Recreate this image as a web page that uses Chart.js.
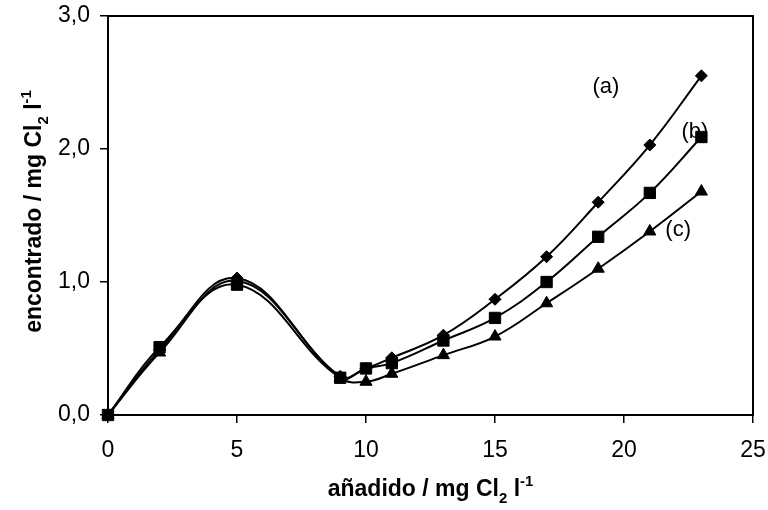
<!DOCTYPE html>
<html>
<head>
<meta charset="utf-8">
<script src="https://cdn.jsdelivr.net/npm/chart.js@4"></script>
<style>
  body { margin: 0; background: #fff; }
  canvas { display: block; }
</style>
</head>
<body>
<canvas id="myChart" width="768" height="510"></canvas>
<script>
// values
const added = [0, 2, 5, 9, 10, 11, 13, 15, 17, 19, 21, 23];
const seriesA = [0, 0.49, 1.03, 0.29, 0.35, 0.43, 0.60, 0.87, 1.19, 1.60, 2.03, 2.55];
const seriesB = [0, 0.51, 0.98, 0.28, 0.35, 0.39, 0.56, 0.73, 1.00, 1.34, 1.67, 2.09];
const seriesC = [0, 0.47, 1.01, 0.28, 0.25, 0.31, 0.45, 0.59, 0.84, 1.10, 1.38, 1.68];
const xTicks = [0, 5, 10, 15, 20, 25];
const yTicks = [0, 1, 2, 3];
const curveLabels = [
    { text: '(a)', x: 19.3, y: 2.47 },
    { text: '(b)', x: 22.75, y: 2.13 },
    { text: '(c)', x: 22.1, y: 1.39 }
];

const FONT = "'Liberation Sans', Arial, sans-serif";

function toPoints(ys) {
    return added.map((x, i) => ({ x: x, y: ys[i] }));
}

function makeSet(label, ys, style, radius) {
    return {
        label: label,
        data: toPoints(ys),
        borderColor: '#000',
        backgroundColor: '#000',
        borderWidth: 2,
        pointStyle: style,
        pointRadius: radius,
        pointHoverRadius: radius,
        pointBorderWidth: 1,
        tension: 0.4,
        fill: false,
        clip: false
    };
}

// draws text with a subscript / superscript run
function drawRich(ctx, parts, x, y, size) {
    let total = 0;
    parts.forEach(p => {
        ctx.font = 'bold ' + (p.s ? size * 0.65 : size) + 'px ' + FONT;
        total += ctx.measureText(p.t).width;
    });
    let cx = x - total / 2;
    parts.forEach(p => {
        const fs = p.s ? size * 0.65 : size;
        ctx.font = 'bold ' + fs + 'px ' + FONT;
        let dy = 0;
        if (p.s === 'sub') dy = size * 0.3;
        if (p.s === 'sup') dy = -size * 0.42;
        ctx.fillText(p.t, cx, y + dy);
        cx += ctx.measureText(p.t).width;
    });
}

const extras = {
    id: 'extras',
    afterDraw(chart) {
        const ctx = chart.ctx;
        const a = chart.chartArea;
        const xs = chart.scales.x, ys = chart.scales.y;
        ctx.save();
        // frame
        ctx.strokeStyle = '#000';
        ctx.lineWidth = 2;
        ctx.strokeRect(a.left, a.top, a.right - a.left, a.bottom - a.top);

        // curve labels
        ctx.fillStyle = '#000';
        ctx.font = '22px ' + FONT;
        ctx.textAlign = 'center';
        ctx.textBaseline = 'middle';
        curveLabels.forEach(l => {
            ctx.fillText(l.text, xs.getPixelForValue(l.x), ys.getPixelForValue(l.y));
        });

        // axis titles
        ctx.textAlign = 'left';
        ctx.textBaseline = 'alphabetic';
        const xParts = [{ t: 'añadido / mg Cl' }, { t: '2', s: 'sub' }, { t: ' l' }, { t: '-1', s: 'sup' }];
        drawRich(ctx, xParts, (a.left + a.right) / 2, 496, 23);

        const yParts = [{ t: 'encontrado / mg Cl' }, { t: '2', s: 'sub' }, { t: ' l' }, { t: '-1', s: 'sup' }];
        ctx.translate(41, (a.top + a.bottom) / 2 - 4);
        ctx.rotate(-Math.PI / 2);
        drawRich(ctx, yParts, 0, 0, 23);
        ctx.restore();
    }
};

new Chart('myChart', {
    type: 'line',
    data: {
        datasets: [
            makeSet('(a)', seriesA, 'rectRot', 6),
            makeSet('(b)', seriesB, 'rect', 8),
            makeSet('(c)', seriesC, 'triangle', 7)
        ]
    },
    options: {
        responsive: false,
        animation: false,
        layout: { padding: { left: 0, top: 16, right: 15, bottom: 0 } },
        plugins: {
            legend: { display: false },
            tooltip: { enabled: false }
        },
        scales: {
            x: {
                type: 'linear',
                min: 0,
                max: 25,
                afterBuildTicks: s => { s.ticks = xTicks.map(v => ({ value: v })); },
                afterFit: s => { s.height = 95; s.paddingLeft = 0; s.paddingRight = 0; },
                grid: { drawOnChartArea: false, drawTicks: true, tickLength: 8, color: '#000', lineWidth: 1.5 },
                border: { display: true, color: '#000', width: 2 },
                ticks: { color: '#000', font: { family: FONT, size: 23 }, padding: 14, maxRotation: 0 }
            },
            y: {
                type: 'linear',
                min: 0,
                max: 3,
                afterBuildTicks: s => { s.ticks = yTicks.map(v => ({ value: v })); },
                afterFit: s => { s.width = 108; s.paddingTop = 0; s.paddingBottom = 0; },
                grid: { drawOnChartArea: false, drawTicks: true, tickLength: 8, color: '#000', lineWidth: 1.5 },
                border: { display: true, color: '#000', width: 2 },
                ticks: {
                    color: '#000',
                    font: { family: FONT, size: 23 },
                    padding: 10,
                    callback: v => v.toFixed(1).replace('.', ',')
                }
            }
        }
    },
    plugins: [extras]
});
</script>
</body>
</html>
